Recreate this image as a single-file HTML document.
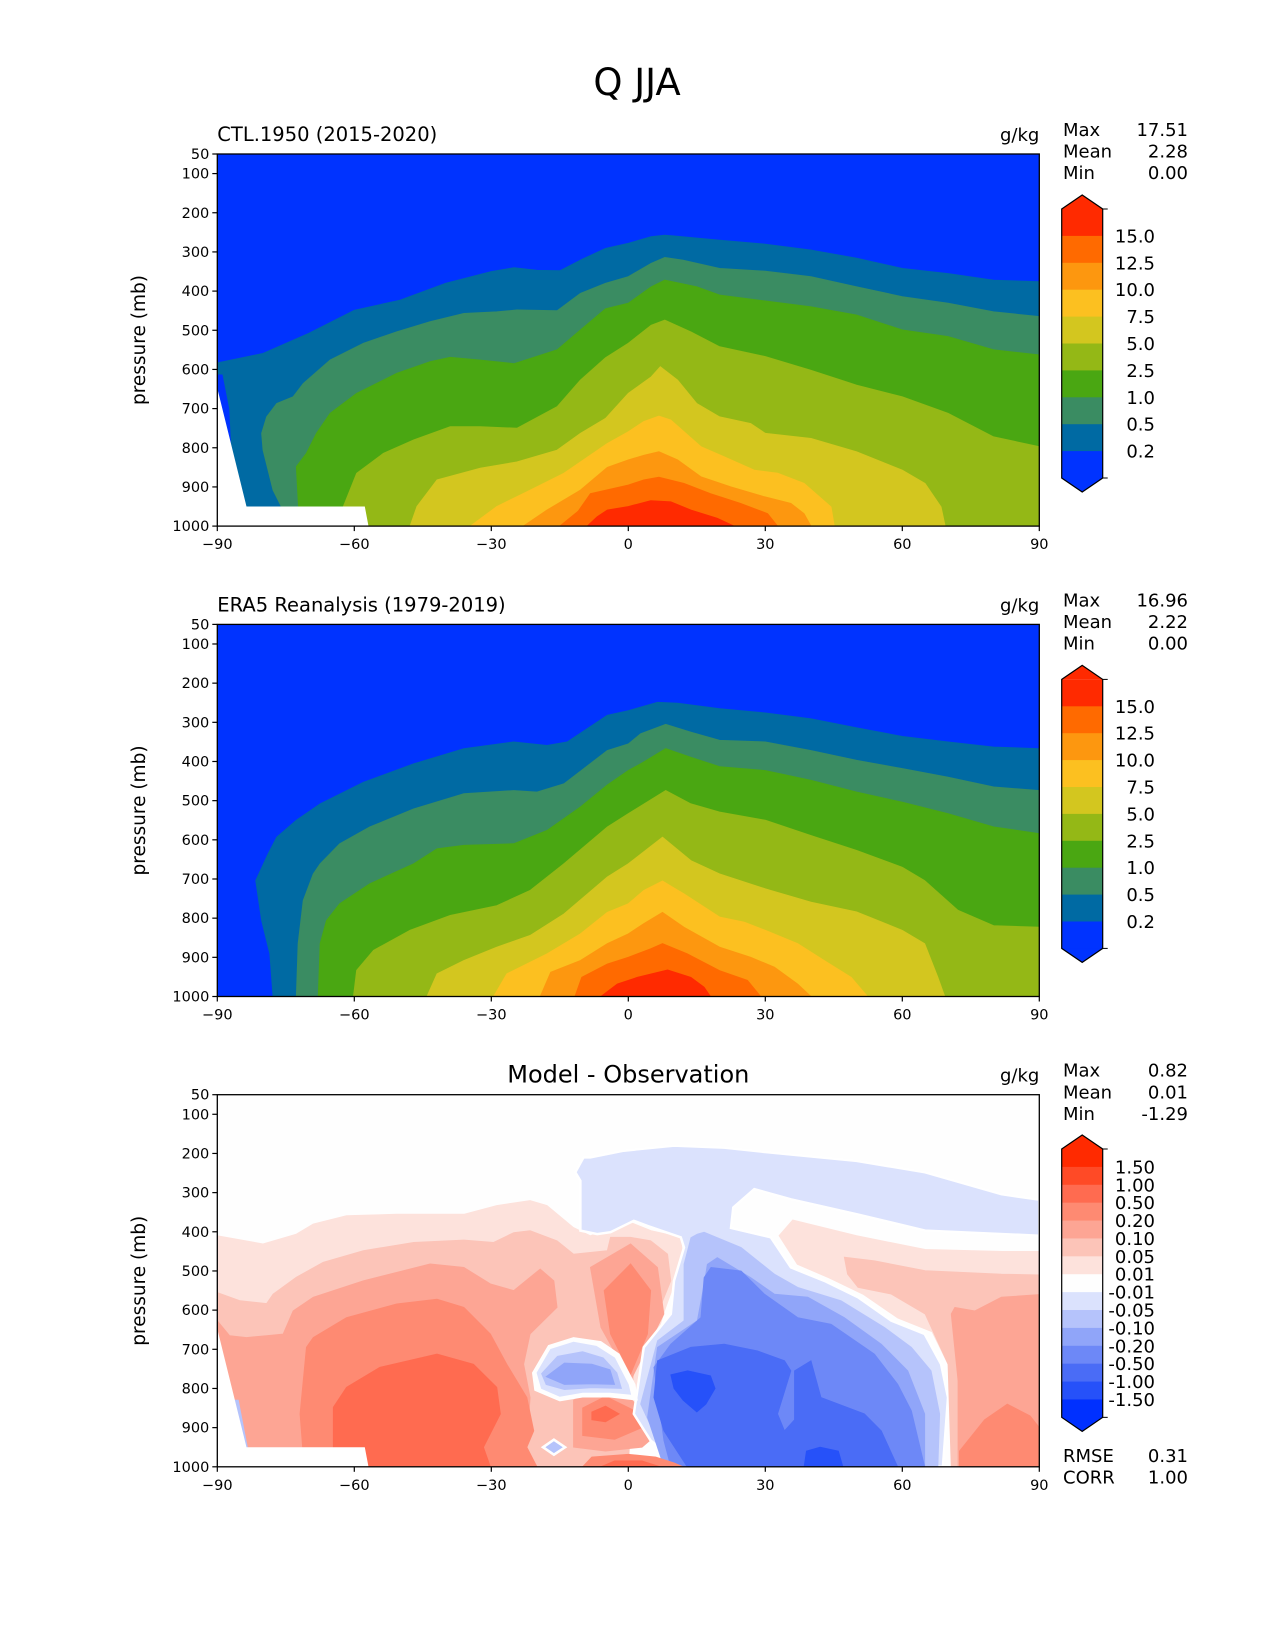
<!DOCTYPE html>
<html><head><meta charset="utf-8"><style>
html,body{margin:0;padding:0;background:#fff;}
svg{display:block;font-family:"DejaVu Sans","Liberation Sans",sans-serif;}
</style></head><body>
<svg id="fig" width="1275" height="1650" viewBox="0 0 1275 1650" xmlns="http://www.w3.org/2000/svg">
<text x="637" y="95" font-size="37" text-anchor="middle">Q JJA</text>
</svg>
<script>
// ---- data ----
const latTicks = [-90, -60, -30, 0, 30, 60, 90];
const presTicks = [50, 100, 200, 300, 400, 500, 600, 700, 800, 900, 1000];
const qLevelLabels = ["15.0", "12.5", "10.0", "7.5", "5.0", "2.5", "1.0", "0.5", "0.2"];
const diffLevelLabels = ["1.50", "1.00", "0.50", "0.20", "0.10", "0.05", "0.01", "-0.01", "-0.05", "-0.10", "-0.20", "-0.50", "-1.00", "-1.50"];
const panelTitles = ["CTL.1950 (2015-2020)", "ERA5 Reanalysis (1979-2019)", "Model - Observation"];
const statMax = ["17.51", "16.96", "0.82"];
const statMean = ["2.28", "2.22", "0.01"];
const statMin = ["0.00", "0.00", "-1.29"];
const rmseValue = "0.31";
const corrValue = "1.00";

const ctl02 = [[-86,1000],[-87.3,700],[-88.8,612],[-90,612],[-90,583],[-80,559],[-70,508],[-60,449],[-50,423],[-40,380],[-30,350],[-25,340],[-20,347],[-15,348],[-10,318],[-5,291],[0,278],[5,261],[8,257],[10,259],[20,270],[30,280],[40,295],[50,316],[60,342],[70,355],[80,372],[90,376]];
const ctl05 = [[-76,1000],[-76,950],[-77.8,908],[-80,806],[-80.3,763],[-79.2,721],[-77,687],[-73.4,670],[-71.2,636],[-65.3,576],[-58,533],[-50.7,504],[-43.4,478],[-36,457],[-28.8,453],[-24.4,448],[-15.6,450],[-10.5,406],[-5,380],[0,363],[5,329],[8,314],[12,321],[20,342],[30,349],[40,363],[50,389],[60,414],[70,431],[80,453],[90,465]];
const ctl10 = [[-72,1000],[-72.7,848],[-70.5,814],[-68.3,763],[-65.3,712],[-59.5,661],[-50.7,610],[-43.4,580],[-39,569],[-32.4,576],[-25,585],[-15.6,550],[-10.5,499],[-5,445],[0,431],[5,389],[8,372],[15,389],[20,410],[30,425],[40,440],[50,461],[60,499],[70,516],[80,550],[90,563]];
const ctl25 = [[-62.8,1000],[-62.4,950],[-59.5,865],[-53.6,814],[-47,780],[-39,746],[-32.4,746],[-24.4,750],[-15.6,695],[-10.5,627],[-5,570],[0,533],[5,487],[8,474],[13.7,504],[20,542],[30,567],[40,602],[50,640],[60,670],[70,712],[80,772],[90,797]];
const ctl50 = [[-47.8,1000],[-46.3,950],[-41.9,882],[-32.4,852],[-24.4,836],[-15.6,806],[-10.5,763],[-5,725],[0,661],[5,619],[7,593],[10.8,627],[15,687],[20,721],[26.8,738],[30,763],[40,776],[50,810],[60,857],[65,891],[68.5,951],[69.4,1000]];
const ctl75 = [[-34.6,1000],[-28.8,950],[-21.5,908],[-14.1,865],[-4.6,789],[0,759],[3.4,733],[6.7,719],[9.3,729],[15.9,797],[21,823],[27.6,857],[32.7,865],[38.5,891],[44.4,951],[45.1,1000]];
const ctl100 = [[-23,1000],[-17.8,959],[-10.5,908],[-4.6,850],[0,831],[3.4,819],[6.7,810],[10.8,831],[15.9,874],[22.5,900],[29.8,925],[35.6,942],[38.5,968],[40,1000]];
const ctl125 = [[-15,1000],[-11,962],[-8.3,917],[0,895],[3.4,882],[6.7,875],[12.2,891],[18,917],[24.6,942],[30.5,968],[32.7,1000]];
const ctl150 = [[-9,1000],[-6.8,976],[-4.6,959],[0,950],[4.9,935],[9.3,938],[13.7,959],[19.5,980],[23.2,1000]];

const era02 = [[-77.8,1000],[-78.5,891],[-80.3,806],[-81.6,704],[-78.9,636],[-77,593],[-72.7,550],[-67.5,508],[-58,453],[-47,406],[-36,367],[-25.1,350],[-17.8,359],[-13.4,350],[-4.6,282],[0,270],[6.4,249],[10.8,251],[20,265],[30,276],[40,291],[50,314],[60,336],[70,350],[80,363],[90,367]];
const era05 = [[-72.7,1000],[-72.3,865],[-71.2,755],[-69,687],[-67.5,661],[-63.2,610],[-56.6,567],[-47,521],[-36,482],[-25.1,474],[-20,478],[-14.1,457],[-4.6,372],[0,355],[2.7,329],[8.2,305],[13.7,325],[20,346],[30,350],[40,372],[50,397],[60,418],[70,440],[80,465],[90,474]];
const era10 = [[-67.9,1000],[-67.5,865],[-66.1,806],[-63.2,763],[-56.6,712],[-47,661],[-41.9,623],[-36,614],[-25.1,610],[-17.8,576],[-10.5,516],[-4.6,460],[0,423],[3.4,401],[8.2,367],[13.7,389],[20,413],[30,423],[40,448],[50,478],[60,504],[70,533],[80,567],[90,584]];
const era25 = [[-60.2,1000],[-59.5,933],[-55.8,882],[-47.8,831],[-39,793],[-28.8,768],[-21.5,729],[-14.1,661],[-4.6,567],[0,533],[8.2,474],[13.7,508],[20,529],[30,550],[40,589],[50,627],[60,670],[64.9,704],[72.2,780],[80,819],[90,823]];
const era50 = [[-44.1,1000],[-41.9,942],[-36,908],[-28.8,874],[-21.5,844],[-14.1,789],[-4.6,695],[0,661],[7.5,593],[13.7,653],[20,687],[30,725],[40,759],[50,784],[60,831],[64.9,865],[67.8,951],[69.3,1000]];
const era75 = [[-29.5,1000],[-26.6,942],[-17.8,891],[-10.5,840],[-4.6,785],[0,763],[3.4,729],[7.5,705],[12.2,738],[20,797],[25.4,810],[30,831],[37.1,865],[42.9,908],[48.8,951],[52.4,1000]];
const era100 = [[-19.3,1000],[-17,938],[-10.5,908],[-4.6,865],[0,840],[3.4,814],[7.5,785],[12.2,823],[20,874],[26.8,900],[32,925],[37.1,968],[40,1000]];
const era125 = [[-11.7,1000],[-10.2,951],[-4.6,917],[0,900],[4.9,878],[7.5,865],[12.9,891],[20,934],[26.1,959],[29,1000]];
const era150 = [[-6,1000],[-2.4,968],[2,951],[8.6,932],[13.7,951],[16.6,976],[18,1000]];

const dLeft001 = [[-90,1000],[-90,410],[-80,431],[-72.7,406],[-69,380],[-61.7,359],[-50.7,355],[-36,355],[-28.8,333],[-21.5,320],[-17.8,333],[-12,389],[-8.3,410],[-4,389],[0.5,376],[5,397],[11.5,414],[12,470],[8,600],[4,750],[0,900],[0,1000]];
const dLeft005 = [[-90,1000],[-90,555],[-85,576],[-79.2,583],[-77.8,559],[-72.7,516],[-66.8,478],[-58,448],[-47,427],[-36,421],[-29.5,427],[-25.1,402],[-21.5,397],[-15.6,423],[-12,457],[-4.6,448],[-3.9,414],[0.5,414],[4.9,423],[8.6,457],[9.3,525],[6.4,610],[1.2,746],[0,1000]];
const dLeft010 = [[-85,1000],[-90,700],[-90,627],[-87.3,665],[-83.6,670],[-79.2,665],[-75.6,661],[-73.4,602],[-69,567],[-58,525],[-43.4,482],[-36,491],[-30.2,533],[-25.1,550],[-21.5,516],[-19.3,495],[-16.3,525],[-15.6,593],[-21.5,661],[-22.9,738],[-21.5,823],[-22.2,950],[-21.5,1000]];
const dLeft020 = [[-71,1000],[-71.9,865],[-70.5,695],[-69,670],[-61.7,619],[-50.7,584],[-41.9,572],[-36,593],[-30.2,661],[-26.6,738],[-22.2,823],[-20.7,908],[-22.2,950],[-20,1000]];
const dLeft050 = [[-58,1000],[-64.6,950],[-64.6,848],[-61.7,797],[-54.4,746],[-41.9,712],[-33.9,738],[-28.8,797],[-28,865],[-31.7,950],[-30.2,1000]];
const dRidge010 = [[-8.3,491],[0.5,431],[6.4,491],[7.8,610],[0.5,780],[-6,644]];
const dRidge020 = [[-5.3,550],[0.5,482],[4.9,550],[4.2,661],[0.5,763],[-3.9,661]];
const dLow010 = [[-12,830],[-6,790],[0,820],[5,880],[6,920],[3,950],[-5,960],[-12,950]];
const dLow020 = [[-10,850],[-5,820],[2,860],[3,900],[-3,930],[-10,920]];
const dLow050 = [[-8,860],[-5,845],[-2,865],[-5,885],[-8,880]];
const dNeg001 = [[-9.8,210],[-8.3,210],[-1,193],[10,180],[21,185],[30.5,197],[50,219],[65,248],[81.7,304],[90,318],[90,410],[82,406],[65,397],[50,355],[35.6,317],[27.6,291],[23,338],[22.5,390],[31.2,414],[35.6,491],[42.9,525],[50.3,567],[57.6,627],[64.9,661],[68.5,738],[70,823],[68.9,1000],[12.2,1000],[4.9,933],[1.2,865],[3.4,695],[9.3,610],[10,525],[12.2,440],[11.5,414],[4.2,385],[1.2,372],[-3.9,401],[-6.8,406],[-10.5,397],[-10.5,270],[-11.6,248]];
const dNeg005 = [[15.1,406],[16.6,401],[24.7,440],[32,508],[37.1,542],[46.6,576],[56.1,644],[62,695],[66.3,755],[68.2,865],[67.8,1000],[11.5,1000],[6.4,933],[2.7,840],[6.4,678],[12.2,627],[12.2,483],[13.7,415]];
const dNeg010 = [[17.3,483],[19.5,466],[26.8,517],[32,559],[39.3,567],[47.3,619],[55.4,687],[61.2,755],[64.9,865],[64.9,1000],[7.8,1000],[4.2,874],[6.4,695],[15.1,627],[16.6,534]];
const dNeg020 = [[16.6,517],[18.1,491],[24.7,500],[29.8,559],[37.1,619],[44.4,636],[53.9,712],[59,789],[62,857],[64.9,1000],[9.3,1000],[7.8,933],[5.6,746],[9.3,687],[15.9,619]];
const dNeg050 = [[6.4,729],[13.7,695],[21,687],[28.3,704],[34.2,729],[35.6,755],[32.7,865],[34.2,908],[36.4,880],[36.4,755],[40,729],[42.2,823],[51.7,865],[55.4,908],[59,1000],[12.9,1000],[7.8,908],[5.6,823]];
const dNeg100a = [[9.3,765],[13,755],[18,768],[19,800],[17,840],[15,860],[12,830],[10,800]];
const dNeg100b = [[38.5,1000],[39,960],[42,950],[46,960],[47,1000]];
const dRight001 = [[33,410],[36,370],[50,410],[65,445],[82,450],[90,450],[90,1000],[71.5,1000],[71.5,823],[70,738],[66.5,655],[59,620],[51.5,560],[44,518],[37,483]];
const dRight005 = [[47.3,465],[53.9,474],[65,499],[81.7,508],[90,510],[90,1000],[70.7,1000],[70,738],[65,610],[57.6,559],[50.3,542],[48,508]];
const dRight010 = [[71.5,593],[75.9,602],[81.7,567],[90,560],[90,1000],[72.2,1000],[72.2,780],[70.7,610]];
const dRight020 = [[72.5,1000],[72.5,960],[78,880],[83,840],[88,870],[90,900],[90,1000]];
const dBlobRing = [[-21,760],[-17.5,690],[-12,670],[-6,680],[-2,712],[1.5,790],[2,830],[-4,822],[-10,822],[-15,832],[-20.5,805]];
const dBlob005 = [[-20,760],[-17,700],[-12,682],[-7,692],[-3,722],[0,790],[0.5,815],[-4,810],[-10,810],[-15,820],[-19,800]];
const dBlob010 = [[-19,762],[-15.5,718],[-10,706],[-5.5,722],[-2.5,760],[-1.5,800],[-8,798],[-14,803],[-18,790]];
const dBlob020 = [[-18,770],[-14,735],[-8,738],[-4,752],[-3,790],[-8,788],[-14,790]];
const dSpotRing = [[-19,950],[-16.3,928],[-13.5,950],[-16.3,972]];
const dSpot010 = [[-18,950],[-16.3,936],[-14.5,950],[-16.3,964]];
const dBottom020 = [[-10,1000],[-8,975],[0,968],[6,975],[10,990],[12,1000]];
const dBottom050 = [[-6,1000],[-3,985],[3,985],[7,1000]];
const dWall = [[-86.2,830],[-85.4,830],[-83.4,950],[-84.3,950]];
const terrainMask = [[-90,648],[-83.6,950],[-57.7,950],[-56.9,1000],[-90,1000]];

// ---- styles ----
const qPalette = ["#ff2a00","#ff6a00","#fd970f","#fcc020","#d3c61f","#94b816","#4aa712","#3a8c62","#006aa3","#0033ff"];
const dPalette = ["#ff2a00","#ff4a26","#ff6b50","#fe8a72","#fda594","#fcc4b8","#fde2dc","#fefefe","#dbe2fd","#b5c3fb","#90a5f9","#6d88f7","#4a6cf6","#2651f9","#0030ff"];
const ctlLayers = [[ctl02,8],[ctl05,7],[ctl10,6],[ctl25,5],[ctl50,4],[ctl75,3],[ctl100,2],[ctl125,1],[ctl150,0]];
const eraLayers = [[era02,8],[era05,7],[era10,6],[era25,5],[era50,4],[era75,3],[era100,2],[era125,1],[era150,0]];
const diffLayers = [[dLeft001,6],[dLeft005,5],[dLeft010,4],[dLeft020,3],[dLeft050,2],[dRidge010,4],[dRidge020,3],[dLow010,4],[dLow020,3],[dLow050,2],
  [dNeg001,8],[dNeg005,9],[dNeg010,10],[dNeg020,11],[dNeg050,12],[dNeg100a,13],[dNeg100b,13],
  [dRight001,6],[dRight005,5],[dRight010,4],[dRight020,3],
  [dBlobRing,7],[dBlob005,8],[dBlob010,9],[dBlob020,10],[dSpotRing,7],[dSpot010,9],[dBottom020,3],[dBottom050,2],[dWall,9]];

const NS = "http://www.w3.org/2000/svg";
const svg = document.getElementById("fig");
const X0 = 217.3, X1 = 1039.3, PH = 372.1;
const panelTops = [154, 624.4, 1094.7];

function el(tag, attrs, parent) {
  const e = document.createElementNS(NS, tag);
  for (const k in attrs) e.setAttribute(k, attrs[k]);
  (parent || svg).appendChild(e);
  return e;
}
function xScale(lat) { return X0 + (lat + 90) / 180 * (X1 - X0); }
function yScaleFor(top) { return p => top + (p - 50) / 950 * PH; }

function polyPath(pts, ys, closeBottom) {
  const q = pts.slice();
  if (closeBottom) {
    const last = q[q.length - 1];
    if (last[1] < 1000) q.push([last[0], 1000]);
    if (q[0][1] < 1000) q.push([q[0][0], 1000]);
  }
  return q.map((pt, i) => (i ? "L" : "M") + xScale(pt[0]).toFixed(1) + "," + ys(pt[1]).toFixed(1)).join("") + "Z";
}

function drawPanel(idx, layers, palette, bg, closeBottom, mask) {
  const top = panelTops[idx];
  const ys = yScaleFor(top);
  const g = el("g", {});
  
  
  const clipId = "clip" + idx;
  const cp = el("clipPath", { id: clipId }, g);
  el("rect", { x: X0, y: top, width: X1 - X0, height: PH }, cp);
  const field = el("g", { "clip-path": "url(#" + clipId + ")" }, g);
  
  
  const bgr = el("rect", { x: X0, y: top, width: X1 - X0, height: PH, fill: bg }, field);
  
  
  layers.forEach((ly) => {
    const c = palette[ly[1]];
    const attrs = { d: polyPath(ly[0], ys, closeBottom), fill: c, stroke: c, "stroke-width": 0.8 };
    if (idx === 2 && ly[0] === dNeg001) { attrs.stroke = "#ffffff"; attrs["stroke-width"] = 2.5; }
    const p = el("path", attrs, field);
    
    
  });
  if (mask) {
    const m = el("path", { d: polyPath(terrainMask, ys, false), fill: "#ffffff" }, field);
    
    
  }
  const frame = el("rect", { x: X0, y: top, width: X1 - X0, height: PH, fill: "none", stroke: "#000", "stroke-width": 1.3 }, g);
  
  
  presTicks.forEach(p => {
    const y = ys(p);
    const t = el("line", { x1: X0 - 5, x2: X0, y1: y, y2: y, stroke: "#000", "stroke-width": 1.2 }, g);
    
    
    const lb = el("text", { x: X0 - 8, y: y + 5, "font-size": 14.5, "text-anchor": "end" }, g);
    lb.textContent = String(p);
    
    
  });
  latTicks.forEach(lat => {
    const x = xScale(lat);
    const t = el("line", { x1: x, x2: x, y1: top + PH, y2: top + PH + 5, stroke: "#000", "stroke-width": 1.2 }, g);
    
    
    const lb = el("text", { x: x, y: top + PH + 23, "font-size": 14.5, "text-anchor": "middle" }, g);
    lb.textContent = lat < 0 ? "\u2212" + Math.abs(lat) : String(lat);
    
    
  });
  const yl = el("text", { x: 0, y: 0, "font-size": 18.5, "text-anchor": "middle", transform: "translate(145," + (top + PH / 2) + ") rotate(-90)" }, g);
  yl.textContent = "pressure (mb)";
  
  
  let tt;
  if (idx === 2) {
    tt = el("text", { x: (X0 + X1) / 2, y: top - 12, "font-size": 24, "text-anchor": "middle" }, g);
  } else {
    tt = el("text", { x: X0, y: top - 13, "font-size": 19.5, "text-anchor": "start" }, g);
  }
  tt.textContent = panelTitles[idx];
  
  
  const un = el("text", { x: X1, y: top - 13, "font-size": 18, "text-anchor": "end" }, g);
  un.textContent = "g/kg";
  
  
  const statNames = ["Max", "Mean", "Min"];
  const statVals = [statMax[idx], statMean[idx], statMin[idx]];
  statNames.forEach((n, i) => {
    const yy = top - 18 + i * 21.6;
    const a = el("text", { x: 1063, y: yy, "font-size": 18 }, g);
    a.textContent = n;
    
    
    const b = el("text", { x: 1188, y: yy, "font-size": 18, "text-anchor": "end" }, g);
    b.textContent = statVals[i];
    
    
  });
  return g;
}

function drawColorbar(g, top, palette, labels, segH) {
  const cx0 = 1061.7, cx1 = 1102.7, tip = 14;
  const n = palette.length;
  const y0 = top + tip;
  const cb = el("g", {}, g);
  
  
  const triTop = el("path", { d: `M${cx0},${y0}L${(cx0 + cx1) / 2},${top}L${cx1},${y0}Z`, fill: palette[0] }, cb);
  
  
  for (let i = 0; i < n; i++) {
    const r = el("rect", { x: cx0, y: y0 + i * segH, width: cx1 - cx0, height: segH + 0.5, fill: palette[i] }, cb);
    
    
  }
  const yEnd = y0 + n * segH;
  const triBot = el("path", { d: `M${cx0},${yEnd}L${(cx0 + cx1) / 2},${yEnd + tip}L${cx1},${yEnd}Z`, fill: palette[n - 1] }, cb);
  
  
  const outline = el("path", { d: `M${cx0},${y0}L${(cx0 + cx1) / 2},${top}L${cx1},${y0}L${cx1},${yEnd}L${(cx0 + cx1) / 2},${yEnd + tip}L${cx0},${yEnd}Z`, fill: "none", stroke: "#000", "stroke-width": 1.2 }, cb);
  
  
  [y0, yEnd].forEach(y => {
    const t = el("line", { x1: cx1, x2: cx1 + 5, y1: y, y2: y, stroke: "#000", "stroke-width": 1 }, cb);
    
    
  });
  labels.forEach((lb, i) => {
    const t = el("text", { x: 1155, y: y0 + (i + 1) * segH + 6.5, "font-size": 18, "text-anchor": "end" }, cb);
    t.textContent = lb;
    
    
  });
}

const g1 = drawPanel(0, ctlLayers, qPalette, "#0033ff", true, true);
drawColorbar(g1, 195, qPalette, qLevelLabels, 26.9);
const g2 = drawPanel(1, eraLayers, qPalette, "#0033ff", true, false);
drawColorbar(g2, 195 + 470.4, qPalette, qLevelLabels, 26.9);
const g3 = drawPanel(2, diffLayers, dPalette, "#fefefe", false, true);
drawColorbar(g3, 1135, dPalette, diffLevelLabels, 17.89);
const r1 = el("text", { x: 1063, y: 1462, "font-size": 18 }, g3);
r1.textContent = "RMSE";


const r2 = el("text", { x: 1188, y: 1462, "font-size": 18, "text-anchor": "end" }, g3);
r2.textContent = rmseValue;


const c1 = el("text", { x: 1063, y: 1483.5, "font-size": 18 }, g3);
c1.textContent = "CORR";


const c2 = el("text", { x: 1188, y: 1483.5, "font-size": 18, "text-anchor": "end" }, g3);
c2.textContent = corrValue;


</script>
</body></html>
